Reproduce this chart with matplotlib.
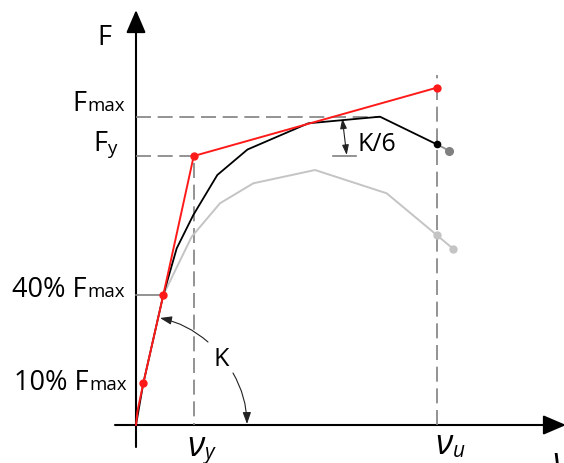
import matplotlib.pyplot as plt
from matplotlib.patches import FancyArrowPatch

# displacement in units of nu_u, force in units of Fmax
nu_y = 0.192
nu_u = 1.0
F_y = 0.8725
F_max = 1.0

# bilinear idealisation (red)
bil_x = [0.0, 0.005, 0.0243, 0.0908, 0.192, 1.0]
bil_y = [0.0, 0.0454, 0.1353, 0.4217, 0.8725, 1.094]
bil_mark = [2, 3, 4, 5]

# measured envelope (black)
env_x = [0.0, 0.0243, 0.0908, 0.1354, 0.1906, 0.2704, 0.3708, 0.5730, 0.8114, 1.0]
env_y = [0.0, 0.1353, 0.4217, 0.5731, 0.6812, 0.8109, 0.8936, 0.9786, 1.0, 0.9105]
env_last = (1.0419, 0.8897)

# degraded envelope (light grey)
deg_x = [0.0908, 0.1852, 0.2793, 0.3901, 0.5953, 0.8337, 1.0, 1.0552]
deg_y = [0.4217, 0.6108, 0.7191, 0.7840, 0.8271, 0.7515, 0.6163, 0.5709]

red = '#ff1a1a'
dash_grey = '#808080'
light_grey = '#c4c4c4'

plt.rcParams['font.family'] = ['Open Sans', 'DejaVu Sans']


def X(px):
    return (px - 136) / 300.7


def Y(py):
    return (425 - py) / 308.3


fig = plt.figure(figsize=(5.64, 4.63), dpi=100)
ax = fig.add_axes([0, 0, 1, 1])
ax.set_xlim(X(0), X(564))
ax.set_ylim(Y(463), Y(0))
ax.axis('off')

dash = (0, (9, 4))
ax.plot([0, env_x[8]], [F_max, F_max], color=dash_grey, lw=1.2, ls=dash)
ax.plot([0, nu_y, nu_y], [F_y, F_y, 0], color=dash_grey, lw=1.2, ls=dash)
ax.plot([nu_u, nu_u], [0, 1.135], color=dash_grey, lw=1.2, ls=dash)
ax.plot([0, bil_x[3]], [bil_y[3], bil_y[3]], color=dash_grey, lw=1.2)

# curves
ax.plot(deg_x, deg_y, color=light_grey, lw=1.4)
ax.plot(deg_x[-2:], deg_y[-2:], 'o', color=light_grey, ms=5)
ax.plot([env_x[-1], env_last[0]], [env_y[-1], env_last[1]], color='#909090', lw=1.3)
ax.plot(env_last[0], env_last[1], 'o', color='#808080', ms=5.5)
ax.plot(env_x, env_y, color='black', lw=1.3)
ax.plot(env_x[-1], env_y[-1], 'o', color='black', ms=4.5)
ax.plot(bil_x, bil_y, color=red, lw=1.4)
ax.plot([bil_x[i] for i in bil_mark], [bil_y[i] for i in bil_mark], 'o', color=red, ms=5)

# axes with arrow heads
for a, b in [((X(115), 0), (X(566), 0)), ((0, Y(447)), (0, Y(10)))]:
    ax.add_patch(FancyArrowPatch(a, b, arrowstyle='-|>,head_length=14,head_width=6',
                                 mutation_scale=1, lw=1.5, color='black',
                                 shrinkA=0, shrinkB=0))

# K/6 marker
ax.plot([X(333), X(356)], [F_y, F_y], color=dash_grey, lw=1.2)
ax.add_patch(FancyArrowPatch((X(342.3), Y(118.5)), (X(346.7), Y(155)),
                             arrowstyle='<|-|>,head_length=6,head_width=2',
                             mutation_scale=1, lw=0.8, color='#222222',
                             shrinkA=0, shrinkB=0))
ax.text(X(358), Y(151), 'K/6', fontsize=18, ha='left', va='baseline')

# K angle arcs
ax.add_patch(FancyArrowPatch((X(208), Y(342)), (X(160), Y(318)),
                             connectionstyle='arc3,rad=0.13',
                             arrowstyle='-|>,head_length=7,head_width=2.5',
                             mutation_scale=1, lw=0.8, color='#222222',
                             shrinkA=0, shrinkB=0))
ax.add_patch(FancyArrowPatch((X(233), Y(373)), (X(247), Y(424)),
                             connectionstyle='arc3,rad=-0.13',
                             arrowstyle='-|>,head_length=7,head_width=2.5',
                             mutation_scale=1, lw=0.8, color='#222222',
                             shrinkA=0, shrinkB=0))
ax.text(X(221), Y(366), 'K', fontsize=18, ha='center', va='baseline')

# force labels
big, small = 19.5, 13.5
ax.text(X(97), Y(45), 'F', fontsize=big, va='baseline')
ax.text(X(86), Y(111), 'F', fontsize=big, ha='right', va='baseline')
ax.text(X(87), Y(111), 'max', fontsize=small, va='baseline')
ax.text(X(107), Y(151), 'F', fontsize=big, ha='right', va='baseline')
ax.text(X(107), Y(154), 'y', fontsize=small, va='baseline')
ax.text(X(86), Y(297), '40% F', fontsize=big, ha='right', va='baseline')
ax.text(X(87), Y(297), 'max', fontsize=small, va='baseline')
ax.text(X(88), Y(390), '10% F', fontsize=big, ha='right', va='baseline')
ax.text(X(89), Y(390), 'max', fontsize=small, va='baseline')

# displacement labels
ax.text(X(187), Y(456), 'ν', fontsize=25, style='italic', va='baseline')
ax.text(X(204), Y(459), 'y', fontsize=15, style='italic', va='baseline')
ax.text(X(435), Y(454), 'ν', fontsize=25, style='italic', va='baseline')
ax.text(X(453), Y(457), 'u', fontsize=15, style='italic', va='baseline')
ax.text(X(552), Y(472), 'ν', fontsize=25, style='italic', va='baseline')

fig.savefig('out.png', dpi=100)
